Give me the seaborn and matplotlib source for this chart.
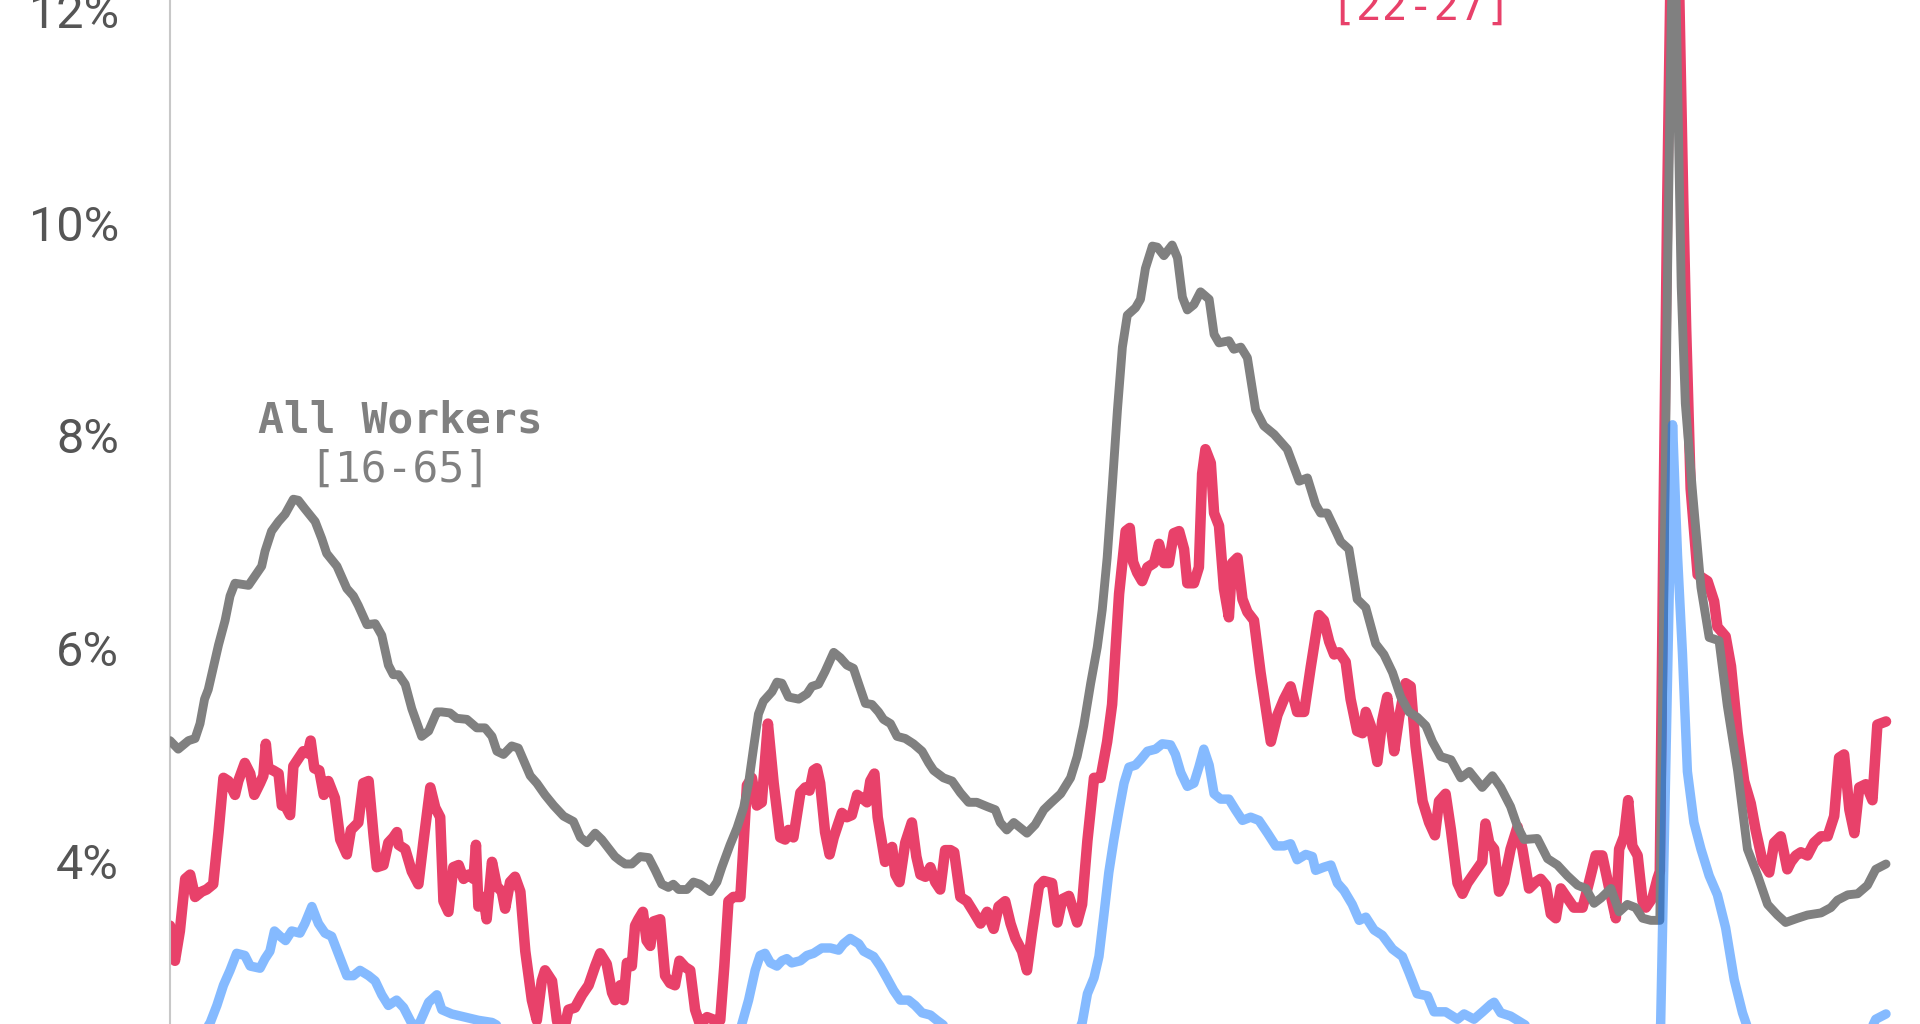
import numpy as np
import pandas as pd
import matplotlib
matplotlib.use("Agg")
import matplotlib.pyplot as plt
import seaborn as sns

# ---------------- data (months since Jan 1990, unemployment rate %) ----------------
all_months = [0, 2.0, 4.5, 6.1, 7.3, 8.4, 9.3, 11.8, 13.4, 14.6, 15.8, 19.1, 20.7, 22.3, 23.1, 24.7, 26.4, 28.0,
              30.0, 31.2, 32.8, 35.3, 36.9, 38.1, 40.6, 43.0, 44.6, 45.8, 47.9, 49.9, 51.5, 53.1, 54.3, 55.6, 57.2,
              58.8, 61.2, 62.9, 64.9, 66.1, 68.1, 69.7, 72.2, 74.6, 76.6, 78.3, 79.5, 81.1, 83.1, 84.7, 87.6, 89.2,
              91.2, 93.3, 95.7, 98.1, 99.8, 101.4, 103.4, 105.0, 108.2, 109.5, 110.7, 112.3, 114.3, 116.4, 118.0,
              119.6, 121.2, 122.4, 123.7, 125.7, 127.3, 128.9, 131.4, 133.0, 134.2, 136.2, 137.9, 139.5, 140.7,
              141.9, 143.1, 144.3, 146.4, 147.6, 148.8, 150.4, 152.9, 154.9, 156.1, 157.7, 159.3, 161.4, 163.0,
              164.6, 166.2, 167.5, 169.1, 170.7, 172.3, 173.5, 175.2, 176.8, 178.8, 180.8, 182.9, 184.5, 185.7,
              188.1, 190.2, 192.2, 194.2, 196.2, 198.7, 200.7, 201.9, 203.5, 205.2, 206.8, 208.4, 210.4, 212.5,
              214.1, 216.6, 219.0, 220.6, 222.2, 223.9, 225.5, 226.7, 227.9, 229.1, 230.4, 231.6, 232.8, 234.8,
              236.0, 237.2, 238.9, 240.1, 241.7, 243.7, 245.0, 246.2, 247.4, 249.0, 250.6, 252.7, 253.9, 255.1,
              257.5, 258.7, 260.4, 262.0, 264.0, 266.0, 268.5, 271.7, 274.6, 276.6, 278.6, 279.8, 281.4, 283.5,
              284.7, 286.7, 288.7, 290.8, 293.2, 295.2, 297.3, 299.3, 301.3, 303.3, 305.4, 307.0, 309.0, 311.5,
              313.9, 316.0, 319.1, 321.6, 323.6, 326.0, 327.7, 329.3, 332.5, 335.0, 337.4, 339.8, 342.3, 344.3,
              346.3, 348.0, 350.4, 352.4, 354.4, 356.4, 358.1, 360.1, 362.3, 363.3, 364.2, 365.1, 365.9, 366.8,
              367.5, 368.5, 370.2, 372.3, 374.3, 376.7, 378.7, 381.2, 383.6, 386.1, 388.5, 390.9, 392.9, 395.8,
              398.2, 401.5, 403.9, 405.5, 408.0, 410.4, 412.8, 414.8, 417.3]
all_rate = [5.13, 5.05, 5.13, 5.15, 5.29, 5.52, 5.61, 6.03, 6.26, 6.49, 6.61, 6.59, 6.68, 6.77, 6.91, 7.10, 7.19, 7.26,
            7.40, 7.39, 7.31, 7.19, 7.03, 6.89, 6.77, 6.56, 6.49, 6.40, 6.22, 6.23, 6.12, 5.84, 5.75, 5.75, 5.66,
            5.43, 5.17, 5.22, 5.40, 5.40, 5.39, 5.34, 5.33, 5.25, 5.25, 5.17, 5.03, 5.00, 5.08, 5.06, 4.80, 4.73,
            4.62, 4.52, 4.42, 4.37, 4.22, 4.17, 4.26, 4.20, 4.04, 4.00, 3.97, 3.97, 4.04, 4.03, 3.91,
            3.78, 3.75, 3.78, 3.73, 3.73, 3.80, 3.78, 3.71, 3.80, 3.94, 4.15, 4.31, 4.50, 4.73,
            5.06, 5.38, 5.50, 5.59, 5.68, 5.67, 5.54, 5.52, 5.57, 5.64, 5.66, 5.78, 5.96, 5.91,
            5.84, 5.81, 5.66, 5.48, 5.47, 5.40, 5.33, 5.29, 5.17, 5.15, 5.10, 5.03, 4.92, 4.85,
            4.78, 4.75, 4.64, 4.55, 4.55, 4.51, 4.48, 4.36, 4.29, 4.36, 4.31, 4.26, 4.34, 4.48,
            4.54, 4.63, 4.78, 4.98, 5.27, 5.67, 6.01, 6.36, 6.85, 7.50, 8.24, 8.83, 9.13, 9.20,
            9.28, 9.57, 9.78, 9.77, 9.69, 9.79, 9.67, 9.30, 9.18, 9.23, 9.35, 9.28, 8.95, 8.87,
            8.89, 8.81, 8.83, 8.73, 8.24, 8.09, 8.01, 7.87, 7.57, 7.60, 7.35, 7.27, 7.27, 7.10,
            7.00, 6.93, 6.46, 6.38, 6.04, 5.94, 5.77, 5.54, 5.40, 5.35, 5.27, 5.12, 4.98, 4.95,
            4.78, 4.84, 4.69, 4.80, 4.69, 4.51, 4.32, 4.20, 4.21, 4.02, 3.96, 3.86, 3.77, 3.74,
            3.60, 3.65, 3.74, 3.52, 3.59, 3.56, 3.46, 3.44, 3.44, 6.6, 9.6, 12.0, 12.9, 10.9,
            9.4, 8.3, 7.49, 6.57, 6.10, 6.07, 5.46, 4.85, 4.11, 3.86, 3.59, 3.49, 3.42, 3.46,
            3.49, 3.51, 3.56, 3.63, 3.68, 3.69, 3.77, 3.92, 3.97]

grad_months = [0, 1.2, 2.4, 3.7, 4.9, 6.1, 7.7, 8.9, 10.5, 11.8, 13.0, 14.2, 15.8, 16.6, 18.2, 19.5, 20.5, 21.9, 22.7,
               23.3, 23.9, 25.1, 26.4, 27.2, 28.0, 29.2, 30.0, 31.2, 32.4, 33.5, 34.2, 35.1, 36.3, 37.4, 38.5,
               40.1, 41.4, 43.0, 44.0, 45.8, 47.0, 48.3, 49.5, 50.3, 51.9, 53.1, 54.3, 55.2, 55.6, 57.2, 58.8,
               60.4, 61.6, 63.3, 64.5, 65.7, 66.5, 67.7, 68.9, 70.2, 71.4, 72.6, 73.8, 74.4, 75.0, 76.2, 77.0,
               78.3, 79.5, 80.7, 81.5, 82.7, 83.9, 85.2, 86.4, 88.0, 89.2, 90.4, 91.2, 92.9, 94.1, 95.3, 96.9,
               98.5, 100.2, 101.8, 103.4, 104.6, 106.2, 107.5, 108.3, 109.5, 110.3, 111.1, 112.3, 113.1, 113.9,
               115.0, 115.9, 116.8, 117.6, 119.2, 120.4, 121.6, 122.8, 123.9, 125.3, 126.5, 127.7, 128.9, 130.6,
               132.6, 133.8, 134.8, 135.8, 137.0, 138.7, 139.5, 140.3, 141.5, 142.7, 143.9, 145.4, 146.8, 148.4,
               149.6, 150.4, 151.6, 153.3, 154.5, 155.5, 156.5, 157.3, 158.1, 159.3, 160.4, 161.4, 162.6, 163.4,
               164.6, 165.8, 167.1, 168.3, 169.5, 170.3, 171.3, 172.1, 172.7, 173.9, 174.7, 175.6, 176.4, 177.4,
               178.8, 180.4, 181.5, 182.5, 183.7, 184.9, 186.1, 187.3, 188.5, 189.8, 190.7, 192.2, 193.8, 195.4,
               197.1, 198.7, 200.3, 201.5, 203.1, 204.4, 205.6, 207.2, 208.4, 209.6, 211.3, 212.5, 214.5, 215.8,
               217.0, 218.6, 220.6, 221.8, 223.1, 224.7, 226.3, 227.9, 229.1, 230.8, 232.4, 233.4, 234.2, 235.2,
               236.4, 237.7, 239.3, 240.5, 241.7, 242.9, 244.1, 245.4, 246.6, 247.4, 249.0, 250.2, 251.0, 251.8,
               253.1, 253.9, 255.1, 256.3, 257.5, 258.3, 259.6, 260.8, 262.0, 263.6, 265.2, 267.7, 269.3, 270.9,
               272.5, 274.1, 275.8, 277.4, 279.4, 280.6, 281.9, 283.1, 284.3, 285.9, 287.1, 288.7, 290.0, 290.8,
               292.0, 293.6, 294.8, 296.0, 297.7, 298.9, 300.5, 301.7, 302.9, 304.6, 306.2, 307.6, 308.6, 310.2,
               311.5, 313.1, 314.3, 315.5, 317.1, 319.1, 319.9, 320.8, 322.0, 323.2, 324.4, 326.0, 327.7, 328.9,
               330.5, 332.1, 333.3, 334.6, 335.8, 337.0, 338.2, 339.8, 341.4, 343.5, 345.1, 346.7, 348.3, 350.0,
               351.6, 352.4, 353.6, 354.6, 355.6, 356.9, 358.1, 358.9, 360.5, 361.7, 362.3, 363.2, 364.1, 365.0,
               366.0, 367.0, 368.0, 368.7, 369.8, 371.5, 373.9, 375.5, 376.3, 378.3, 379.6, 381.2, 382.8, 384.4,
               385.6, 387.3, 388.9, 390.1, 391.7, 393.3, 394.2, 395.4, 396.6, 398.2, 399.8, 401.5, 403.1, 404.7,
               405.9, 407.1, 408.4, 409.6, 410.8, 412.4, 414.0, 415.2, 417.3]
grad_rate = [3.39, 3.06, 3.34, 3.83, 3.87, 3.66, 3.71, 3.73, 3.78, 4.27, 4.78, 4.75, 4.62, 4.75, 4.92, 4.82, 4.62, 4.73,
             4.80, 5.10, 4.87, 4.85, 4.82, 4.52, 4.52, 4.43, 4.89, 4.96, 5.03, 5.01, 5.13, 4.87, 4.85, 4.62, 4.75,
             4.59, 4.20, 4.06, 4.29, 4.36, 4.73, 4.75, 4.24, 3.94, 3.96, 4.17, 4.22, 4.27, 4.15, 4.11, 3.90,
             3.78, 4.17, 4.69, 4.50, 4.41, 3.62, 3.52, 3.94, 3.96, 3.83, 3.87, 3.83, 4.15, 3.57, 3.66, 3.45,
             3.99, 3.76, 3.71, 3.55, 3.80, 3.85, 3.71, 3.15, 2.69, 2.50, 2.87, 2.97, 2.87, 2.50, 2.32, 2.60,
             2.62, 2.74, 2.83, 3.01, 3.13, 3.03, 2.76, 2.69, 2.83, 2.69, 3.04, 3.01, 3.39, 3.45,
             3.52, 3.25, 3.20, 3.43, 3.45, 2.92, 2.85, 2.83, 3.06, 3.00, 2.97, 2.60, 2.46, 2.53,
             2.50, 2.50, 3.01, 3.62, 3.66, 3.66, 4.17, 4.71, 4.78, 4.52, 4.55, 5.29, 4.73, 4.22,
             4.20, 4.29, 4.22, 4.64, 4.69, 4.66, 4.85, 4.87, 4.73, 4.27, 4.06, 4.22, 4.36, 4.45,
             4.41, 4.43, 4.62, 4.59, 4.55, 4.75, 4.82, 4.41, 4.27, 3.99, 4.10, 4.13, 3.87, 3.80,
             4.17, 4.36, 4.04, 3.87, 3.85, 3.94, 3.80, 3.73, 4.10, 4.10, 4.08, 3.66, 3.62, 3.52,
             3.41, 3.52, 3.36, 3.57, 3.62, 3.41, 3.27, 3.15, 2.97, 3.32, 3.76, 3.81, 3.79, 3.42,
             3.64, 3.67, 3.42, 3.59, 4.19, 4.78, 4.78, 5.12, 5.47, 6.51, 7.10, 7.13, 6.81, 6.71,
             6.63, 6.76, 6.80, 6.98, 6.80, 6.80, 7.08, 7.10, 6.93, 6.61, 6.61, 6.76, 7.64, 7.87,
             7.74, 7.27, 7.15, 6.56, 6.29, 6.80, 6.85, 6.46, 6.34, 6.26, 5.77, 5.12, 5.37, 5.52,
             5.64, 5.40, 5.40, 5.82, 6.31, 6.26, 6.06, 5.94, 5.96, 5.87, 5.52, 5.22, 5.20, 5.40,
             5.27, 4.93, 5.32, 5.54, 5.03, 5.35, 5.67, 5.64, 5.08, 4.56, 4.36, 4.24, 4.56, 4.63,
             4.29, 3.79, 3.69, 3.79, 3.88, 3.99, 4.35, 4.17, 4.11, 3.71, 3.80, 4.11, 4.32, 4.11,
             3.74, 3.80, 3.83, 3.77, 3.50, 3.46, 3.74, 3.65, 3.56, 3.56, 3.80, 4.05, 4.05, 3.74,
             3.46, 4.11, 4.23, 4.57, 4.14, 4.05, 3.62, 3.56, 3.65, 3.83, 3.90, 7.2, 10.2, 12.6,
             13.4, 12.2, 10.2, 9.0, 7.5, 6.69, 6.63, 6.44, 6.20, 6.11, 5.83, 5.21, 4.75, 4.54,
             4.29, 3.99, 3.89, 4.17, 4.23, 3.92, 3.99, 4.05, 4.08, 4.05, 4.17, 4.23, 4.23, 4.42,
             4.97, 5.00, 4.48, 4.26, 4.69, 4.72, 4.57, 5.28, 5.31]

college_months = [0, 3, 6, 9.7, 11.4, 13.0, 14.6, 16.2, 18.2, 19.5, 21.9, 23.1, 24.3, 25.4, 26.8, 28.1, 29.6, 31.6, 32.8,
                  34.5, 36.1, 37.7, 39.3, 40.9, 43.0, 44.6, 46.2, 48.3, 49.9, 51.5, 53.1, 55.1, 56.8, 58.8, 60.4,
                  62.9, 64.9, 66.1, 68.5, 71.8, 75.0, 78.3, 82, 88, 96, 104, 112, 120, 128, 134, 137, 139.1, 140.7,
                  142.3, 143.5, 144.7, 146.0, 147.6, 148.8, 150.0, 151.2, 153.3, 154.9, 156.5, 158.5, 160.6, 162.6,
                  163.8, 165.4, 167.5, 168.7, 171.1, 172.7, 174.3, 176.0, 177.6, 179.6, 181.2, 182.9, 184.9, 186.5,
                  190, 196, 202, 208, 214, 218, 221.8, 223.1, 224.7, 225.9, 227.1, 228.3, 229.5, 230.8, 232.0,
                  233.2, 234.8, 236.0, 237.7, 239.7, 241.3, 243.3, 244.5, 245.8, 247.4, 249.0, 250.2, 251.4, 252.7,
                  253.9, 255.5, 257.5, 259.1, 260.8, 262.8, 264.8, 266.9, 268.9, 270.9, 272.5, 274.1, 276.2, 277.8,
                  278.6, 280.6, 282.3, 283.9, 285.5, 287.5, 289.2, 290.8, 292.8, 294.8, 297.3, 299.7, 301.3, 303.3,
                  305.8, 307.4, 310.2, 313.1, 314.7, 317.1, 319.2, 321.2, 322.0, 323.6, 326.0, 328.5, 332, 338,
                  344, 350, 356, 361, 362.5, 363.5, 364.5, 365.4, 366.6, 367.8, 369.0, 370.6, 372.3, 374.3, 376.3,
                  378.3, 380.4, 382.4, 384.0, 388, 394, 400, 406, 411, 414.8, 417.3]
college_rate = [2.15, 2.2, 2.3, 2.47, 2.64, 2.83, 2.97, 3.13, 3.11, 3.01, 2.99, 3.08, 3.15, 3.34, 3.29, 3.25, 3.34, 3.32,
                3.41, 3.57, 3.41, 3.32, 3.29, 3.13, 2.92, 2.92, 2.97, 2.92, 2.87, 2.74, 2.64, 2.69, 2.62, 2.47,
                2.45, 2.67, 2.74, 2.60, 2.56, 2.53, 2.50, 2.48, 2.4, 2.3, 2.1, 2.0, 1.9, 1.8, 1.75, 1.9, 2.2,
                2.47, 2.69, 2.97, 3.11, 3.13, 3.04, 3.01, 3.06, 3.08, 3.04, 3.06, 3.11, 3.13, 3.18, 3.18,
                3.16, 3.22, 3.27, 3.22, 3.15, 3.10, 3.01, 2.90, 2.78, 2.69, 2.69, 2.64, 2.57, 2.55, 2.50,
                2.4, 2.25, 2.1, 2.05, 2.1, 2.25, 2.47, 2.75, 2.90, 3.10, 3.49, 3.89, 4.19, 4.48, 4.73,
                4.88, 4.90, 4.95, 5.03, 5.05, 5.10, 5.09, 5.00, 4.83, 4.70, 4.73, 4.88, 5.05, 4.90,
                4.63, 4.58, 4.58, 4.48, 4.38, 4.41, 4.38, 4.26, 4.14, 4.14, 4.16, 4.01, 4.06, 4.04,
                3.91, 3.94, 3.96, 3.79, 3.72, 3.59, 3.44, 3.47, 3.35, 3.30, 3.17, 3.10, 2.95, 2.75,
                2.73, 2.58, 2.58, 2.51, 2.56, 2.51, 2.58, 2.65, 2.67, 2.57, 2.54, 2.48, 2.4, 2.3,
                2.2, 2.2, 2.1, 2.1, 2.47, 4.4, 6.3, 8.1, 6.87, 5.95, 4.84, 4.36, 4.11, 3.86, 3.68,
                3.37, 2.88, 2.57, 2.39, 2.2, 2.1, 2.0, 2.1, 2.2, 2.51, 2.56]

y_ticks = [4, 6, 8, 10, 12]
y_tick_labels = ["4%", "6%", "8%", "10%", "12%"]

START_YEAR = 1990


def frame(months, rates):
    m = np.asarray(months, dtype=float)
    return pd.DataFrame({"year": START_YEAR + m / 12.0, "rate": rates})


df_all = frame(all_months, all_rate)
df_grad = frame(grad_months, grad_rate)
df_college = frame(college_months, college_rate)

# ---------------- styling ----------------
sns.set_style("white")
plt.rcParams["font.family"] = ["Roboto", "DejaVu Sans"]

GRAY = "#808080"
RED = "#e8416a"
BLUE = "#0d77ff"

fig = plt.figure(figsize=(19.2, 10.24), dpi=100)
ax = fig.add_axes([170 / 1920, 0.0, 1 - 170 / 1920, 1.0])

line_kw = dict(estimator=None, sort=False, ax=ax, legend=False)
sns.lineplot(data=df_grad, x="year", y="rate", color=RED, linewidth=7.6,
             solid_capstyle="round", solid_joinstyle="round", zorder=2, **line_kw)
sns.lineplot(data=df_all, x="year", y="rate", color=GRAY, linewidth=6.4,
             solid_capstyle="round", solid_joinstyle="round", zorder=3, **line_kw)
sns.lineplot(data=df_college, x="year", y="rate", color=BLUE, alpha=0.5, linewidth=6.8,
             solid_capstyle="round", solid_joinstyle="round", zorder=4, **line_kw)

x_end = START_YEAR + all_months[-1] / 12.0
ax.set_xlim(START_YEAR, x_end + (1920 - 1886) / 49.35)
ax.set_ylim(12 - (1024 - 10) / 106.35, 12 + 10 / 106.35)

ax.set_yticks(y_ticks)
ax.set_yticklabels(y_tick_labels)
ax.set_xticks([])
ax.set_xlabel("")
ax.set_ylabel("")
for s in ["top", "right", "bottom"]:
    ax.spines[s].set_visible(False)
ax.spines["left"].set_color("#c8c8c8")
ax.spines["left"].set_linewidth(1.5)
ax.tick_params(axis="y", direction="out", length=10.8, width=1.5, color="#c8c8c8",
               labelsize=35, labelcolor="#555555", pad=26)
ax.patch.set_alpha(0)

# labels
ax.text(START_YEAR + 56.0 / 12, 8.03, "All Workers", family=["DejaVu Sans Mono"], fontweight="bold",
        fontsize=31, color=GRAY, ha="center", va="baseline")
ax.text(START_YEAR + 56.0 / 12, 7.56, "[16-65]", family=["DejaVu Sans Mono"],
        fontsize=31, color=GRAY, ha="center", va="baseline")
ax.text(START_YEAR + 304.1 / 12, 11.906, "[22-27]", family=["DejaVu Sans Mono"],
        fontsize=31, color=RED, ha="center", va="baseline", clip_on=False)

fig.savefig("out.png", dpi=100)
